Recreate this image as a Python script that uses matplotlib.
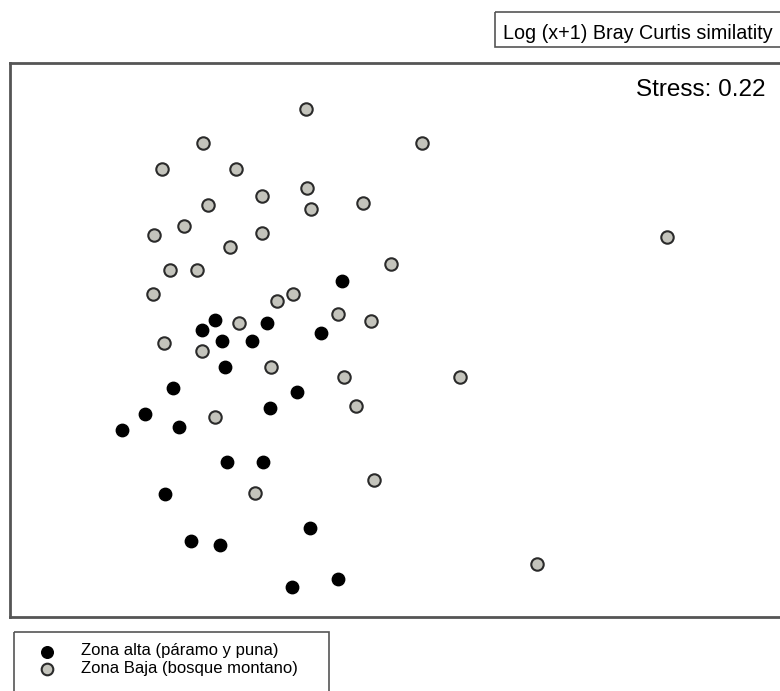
import matplotlib.pyplot as plt
from matplotlib.patches import Rectangle

plt.rcParams['font.family'] = ['Liberation Sans', 'DejaVu Sans']

# NMDS scores (arbitrary ordination units, y grows downward)
alta_x = [342, 215, 267, 202, 321, 222, 252, 225, 173, 297, 145, 270, 179, 122,
          227, 263, 165, 310, 191, 220, 338, 292]
alta_y = [281, 320, 323, 330, 333, 341, 341, 367, 388, 392, 414, 408, 427, 430,
          462, 462, 494, 528, 541, 545, 579, 587]

baja_x = [306, 203, 422, 162, 236, 307, 262, 208, 311, 363, 184, 154, 262, 230,
          667, 391, 170, 197, 153, 293, 277, 338, 239, 371, 164, 202, 271, 344,
          460, 356, 215, 374, 255, 537]
baja_y = [109, 143, 143, 169, 169, 188, 196, 205, 209, 203, 226, 235, 233, 247,
          237, 264, 270, 270, 294, 294, 301, 314, 323, 321, 343, 351, 367, 377,
          377, 406, 417, 480, 493, 564]

labels = ["Zona alta (páramo y puna)", "Zona Baja (bosque montano)"]
title = "Log (x+1) Bray Curtis similatity"
stress = "Stress: 0.22"

W, H = 780, 691
fig = plt.figure(figsize=(W / 100, H / 100), dpi=100)
frame_col = "#555555"
gray_fill = "#c4c4bc"
edge_col = "#2a2a2a"
msize = 80

# main ordination panel (right edge runs off the image)
ax = fig.add_axes([10 / W, (H - 617) / H, 1.0, (617 - 63) / H])
ax.set_xlim(10, 10 + W)
ax.set_ylim(617, 63)
ax.set_xticks([])
ax.set_yticks([])
for s in ax.spines.values():
    s.set_color(frame_col)
    s.set_linewidth(2)

ax.scatter(baja_x, baja_y, s=msize, c=gray_fill, edgecolors=edge_col,
           linewidths=1.5, zorder=3)
ax.scatter(alta_x, alta_y, s=msize, c="black", edgecolors="black",
           linewidths=1.0, zorder=3)
ax.text(765, 90, stress, fontsize=17.5, ha="right", va="center")

# overlay in pixel units for the title box and legend box
ov = fig.add_axes([0, 0, 1, 1], zorder=5)
ov.set_xlim(0, W)
ov.set_ylim(H, 0)
ov.axis("off")

ov.add_patch(Rectangle((495, 12), 300, 35, fill=False, edgecolor=frame_col,
                       linewidth=1.2, clip_on=False))
ov.text(503, 33, title, fontsize=14.2, ha="left", va="center")

ov.add_patch(Rectangle((14, 632), 315, 80, fill=False, edgecolor=frame_col,
                       linewidth=1.2, clip_on=False))
ov.scatter([47], [652], s=70, c="black", edgecolors="black", linewidths=1.0)
ov.scatter([47], [669], s=70, c=gray_fill, edgecolors=edge_col, linewidths=1.5)
ov.text(81, 651, labels[0], fontsize=12, ha="left", va="center")
ov.text(81, 668, labels[1], fontsize=12, ha="left", va="center")

fig.savefig("out.png", dpi=100)
